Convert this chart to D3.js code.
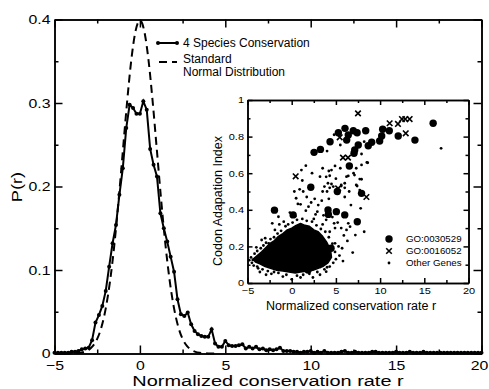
<!DOCTYPE html>
<html>
<head>
<meta charset="utf-8">
<script src="https://cdn.jsdelivr.net/npm/d3@7"></script>
<style>
  body { margin: 0; background: #fff; }
  svg  { display: block; font-family: "Liberation Sans", Arial, sans-serif; }
  .domain, .tick line { stroke: #000; stroke-width: 1.5; }
</style>
</head>
<body>
<svg id="chart" width="489" height="389"></svg>
<script>
// ─── Daten ───────────────────────────────────────────────────────────────────

// 4 Species Conservation: r-Werte und P(r)
const consR = [
  -5.0, -4.8, -4.6, -4.4, -4.2, -4.0, -3.8, -3.6, -3.4, -3.2,
  -3.0, -2.8, -2.6, -2.4, -2.2, -2.0, -1.8, -1.6, -1.4, -1.2,
  -1.0, -0.8, -0.6, -0.4, -0.2, 0.0, 0.2, 0.4, 0.6, 0.8,
  1.0, 1.2, 1.4, 1.6, 1.8, 2.0, 2.2, 2.4, 2.6, 2.8,
  3.0, 3.2, 3.4, 3.6, 3.8, 4.0, 4.2, 4.4, 4.6, 4.8,
  5.0, 5.2, 5.4, 5.6, 5.8, 6.0, 6.2, 6.4, 6.6, 6.8,
  7.0, 7.2, 7.4, 7.6, 7.8, 8.0, 8.2, 8.4, 8.6, 8.8,
  9.0, 9.2, 9.4, 9.6, 9.8, 10.0, 10.2, 10.4, 10.6, 10.8,
  11.0, 11.2, 11.4, 11.6, 11.8, 12.0, 12.2, 12.4, 12.6, 12.8,
  13.0, 13.2, 13.4, 13.6, 13.8, 14.0, 14.2, 14.4, 14.6, 14.8,
  15.0, 15.2, 15.4, 15.6, 15.8, 16.0, 16.2, 16.4, 16.6, 16.8,
  17.0, 17.2, 17.4, 17.6, 17.8, 18.0, 18.2, 18.4, 18.6, 18.8,
  19.0, 19.2, 19.4, 19.6, 19.8, 20.0
];
const consP = [
  0.001, 0.001, 0.001, 0.001, 0.001, 0.002, 0.002, 0.003, 0.005, 0.006,
  0.007, 0.016, 0.037, 0.046, 0.057, 0.075, 0.104, 0.132, 0.154, 0.190,
  0.222, 0.270, 0.298, 0.294, 0.287, 0.287, 0.302, 0.292, 0.245, 0.226,
  0.212, 0.168, 0.150, 0.134, 0.116, 0.098, 0.065, 0.047, 0.045, 0.049,
  0.035, 0.027, 0.023, 0.021, 0.020, 0.020, 0.029, 0.012, 0.008, 0.008,
  0.015, 0.010, 0.009, 0.009, 0.010, 0.011, 0.006, 0.008, 0.006, 0.008,
  0.005, 0.006, 0.004, 0.005, 0.004, 0.005, 0.007, 0.003, 0.003, 0.003,
  0.002, 0.002, 0.001, 0.002, 0.002, 0.003, 0.001, 0.002, 0.001, 0.003,
  0.001, 0.001, 0.001, 0.001, 0.002, 0.003, 0.001, 0.001, 0.002, 0.001,
  0.001, 0.001, 0.001, 0.002, 0.002, 0.001, 0.001, 0.001, 0.001, 0.001,
  0.002, 0.001, 0.001, 0.001, 0.002, 0.001, 0.001, 0.001, 0.002, 0.001,
  0.001, 0.001, 0.001, 0.001, 0.001, 0.001, 0.001, 0.001, 0.001, 0.001,
  0.001, 0.001, 0.001, 0.001, 0.001, 0.001
];

const normR = [
  -4.5, -4.25, -4.0, -3.75, -3.5, -3.25, -3.0, -2.75, -2.5, -2.25,
  -2.0, -1.75, -1.5, -1.25, -1.0, -0.75, -0.5, -0.25, 0.0,
  0.25, 0.5, 0.75, 1.0, 1.25, 1.5, 1.75, 2.0, 2.25, 2.5,
  2.75, 3.0, 3.25, 3.5, 3.75, 4.0, 4.25, 4.5
];
const normP = [
  0.0000, 0.0001, 0.0001, 0.0004, 0.0009, 0.0020, 0.0044, 0.0091, 0.0175, 0.0317,
  0.0540, 0.0863, 0.1295, 0.1826, 0.2420, 0.3011, 0.3521, 0.3867, 0.3989,
  0.3867, 0.3521, 0.3011, 0.2420, 0.1826, 0.1295, 0.0863, 0.0540, 0.0317, 0.0175,
  0.0091, 0.0044, 0.0020, 0.0009, 0.0004, 0.0001, 0.0001, 0.0000
];

// Inset: [r, CAI]
const goCircles = [
  [6.03, 0.845], [5.28, 0.821], [6.40, 0.809], [6.22, 0.781], [6.97, 0.832],
  [7.40, 0.821], [8.37, 0.832], [10.29, 0.840], [11.04, 0.832], [12.05, 0.803],
  [13.94, 0.781], [10.18, 0.803], [9.95, 0.776], [9.05, 0.769], [8.66, 0.750],
  [7.53, 0.754], [4.34, 0.772], [3.25, 0.730], [2.53, 0.714], [7.05, 0.709],
  [7.13, 0.727], [6.52, 0.639], [16.0, 0.873], [2.16, 0.523], [5.16, 0.500],
  [7.90, 0.490], [-1.95, 0.398], [0.16, 0.372], [4.11, 0.399], [4.15, 0.375],
  [6.00, 0.372], [7.42, 0.335], [4.45, 0.190], [1.85, 0.071], [5.05, 0.390]
];
const goCrosses = [
  [7.50, 0.927], [11.08, 0.873], [12.02, 0.869], [12.47, 0.896], [12.85, 0.896],
  [13.34, 0.896], [12.90, 0.818], [0.45, 0.583], [5.80, 0.685], [6.37, 0.685],
  [5.25, 0.517], [8.45, 0.470], [2.98, 0.098], [5.43, 0.796]
];
const otherGenes = [
  // obere, lockere Wolke
  [16.9, 0.736], [8.5, 0.659], [7.9, 0.645], [4.0, 0.721], [4.8, 0.810],
  [5.5, 0.754], [8.2, 0.772], [1.1, 0.617], [1.6, 0.641], [3.2, 0.581],
  [3.5, 0.627], [4.5, 0.617], [4.2, 0.612], [4.9, 0.640], [5.5, 0.627],
  [4.3, 0.586], [6.4, 0.585], [7.0, 0.600], [7.7, 0.568], [7.9, 0.705],
  [8.6, 0.657], [6.2, 0.581], [7.1, 0.590], [7.3, 0.627], [7.9, 0.567],
  [7.7, 0.508], [7.4, 0.530], [4.5, 0.541], [4.0, 0.500], [4.3, 0.520],
  [0.9, 0.512], [5.6, 0.530], [6.0, 0.520], [1.3, 0.500], [-2.2, 0.326],
  [-1.5, 0.362], [0.5, 0.463], [0.7, 0.432], [1.9, 0.417], [3.0, 0.426],
  [2.6, 0.460], [3.5, 0.500], [3.7, 0.527], [4.1, 0.545], [4.7, 0.527],
  [5.6, 0.536], [6.0, 0.545], [7.3, 0.536], [6.7, 0.426], [6.4, 0.326],
  [7.2, 0.262], [8.2, 0.280], [7.8, 0.408], [6.9, 0.166], [6.6, 0.308],
  [6.2, 0.290], [4.8, 0.326], [4.9, 0.217], [3.9, 0.062], [4.0, 0.086],
  [-3.8, 0.080], [-4.4, 0.126], [-3.4, 0.235], [-2.6, 0.217],
  [1.0, 0.430], [2.2, 0.440], [1.7, 0.470], [3.4, 0.450], [2.9, 0.390],
  [3.6, 0.370], [4.6, 0.360], [5.2, 0.330], [5.6, 0.300], [5.9, 0.260],
  [6.3, 0.230], [5.7, 0.190], [4.2, 0.460], [6.0, 0.470], [6.5, 0.500],
  [5.0, 0.570], [3.9, 0.580], [2.3, 0.600], [1.2, 0.560], [0.3, 0.500],
  // Rand des dichten Kerns
  [-4.6, 0.140], [-4.2, 0.160], [-3.9, 0.175], [-3.5, 0.190], [-3.2, 0.205],
  [-2.9, 0.220], [-2.4, 0.240], [-2.0, 0.250], [-1.6, 0.270], [-1.2, 0.285],
  [-0.7, 0.310], [-0.4, 0.320], [0.1, 0.330], [0.6, 0.345], [1.2, 0.350],
  [1.7, 0.340], [2.3, 0.335], [2.8, 0.315], [3.3, 0.295], [3.8, 0.280],
  [4.2, 0.250], [4.6, 0.215], [4.9, 0.170], [5.0, 0.130], [4.7, 0.110],
  [4.3, 0.090], [3.7, 0.075], [2.9, 0.060], [2.0, 0.050], [1.3, 0.045],
  [0.6, 0.040], [-0.6, 0.045], [-1.5, 0.055], [-2.0, 0.060], [-2.7, 0.065],
  [-3.3, 0.075], [-3.9, 0.090], [-4.5, 0.110], [-4.8, 0.125], [-4.0, 0.195],
  [-3.0, 0.245], [-1.9, 0.290], [-0.9, 0.335], [0.4, 0.365], [2.5, 0.350],
  [3.5, 0.320], [4.3, 0.280], [5.3, 0.200], [5.4, 0.150], [3.2, 0.045],
  [1.0, 0.030], [-1.0, 0.035], [-2.3, 0.050], [-3.6, 0.060], [-4.3, 0.095],
  [-0.2, 0.385], [1.6, 0.395], [2.7, 0.375], [3.9, 0.345], [4.9, 0.300],
  [-1.4, 0.320], [5.8, 0.120], [0.0, 0.020], [2.4, 0.030], [-2.9, 0.045]
];
// dichter Kern der "Other Genes" als Umriss
const blobOutline = [
  [-4.4, 0.130], [-3.9, 0.150], [-3.4, 0.170], [-3.0, 0.190], [-2.5, 0.215],
  [-2.0, 0.230], [-1.5, 0.255], [-1.0, 0.270], [-0.5, 0.290], [0.0, 0.300],
  [0.5, 0.315], [1.0, 0.325], [1.5, 0.315], [2.0, 0.310], [2.5, 0.290],
  [3.0, 0.280], [3.5, 0.255], [4.0, 0.220], [4.4, 0.180], [4.5, 0.140],
  [4.1, 0.110], [3.5, 0.090], [3.0, 0.080], [2.4, 0.070], [1.8, 0.065],
  [1.0, 0.060], [0.4, 0.055], [-0.3, 0.060], [-1.0, 0.065], [-1.7, 0.070],
  [-2.4, 0.080], [-3.0, 0.090], [-3.6, 0.105], [-4.1, 0.115]
];

const mainXTicks  = [-5, 0, 5, 10, 15, 20];
const mainXMinor  = [-2.5, 2.5, 7.5, 12.5, 17.5];
const mainYTicks  = [0, 0.1, 0.2, 0.3, 0.4];
const mainYMinor  = [0.05, 0.15, 0.25, 0.35];
const insetXTicks = [-5, 0, 5, 10, 15, 20];
const insetXMinor = [-2.5, 2.5, 7.5, 12.5, 17.5];
const insetYTicks = [0, 0.2, 0.4, 0.6, 0.8, 1];
const insetYMinor = [0.1, 0.3, 0.5, 0.7, 0.9];

// ─── Hilfsfunktionen ─────────────────────────────────────────────────────────

const svg = d3.select('#chart');

// breite Schrift nachbilden: Text horizontal strecken
function widen(sel, sx) {
  sel.each(function () {
    const t = d3.select(this);
    const tx = +t.attr('x') || 0;
    const ty = +t.attr('y') || 0;
    t.attr('x', 0).attr('y', 0)
     .attr('transform', `translate(${tx},${ty}) scale(${sx},1)`);
  });
}

function drawAxes(g, x, y, o) {
  const w0 = x.range()[0], w1 = x.range()[1];
  const h0 = y.range()[0], h1 = y.range()[1];

  const bottom = g.append('g').attr('transform', `translate(0,${h0})`)
    .call(d3.axisBottom(x).tickValues(o.xt).tickSize(-o.major).tickSizeOuter(0)
      .tickPadding(o.xpad).tickFormat(d3.format('d')));
  g.append('g').attr('transform', `translate(0,${h0})`)
    .call(d3.axisBottom(x).tickValues(o.xm).tickSize(-o.minor).tickSizeOuter(0).tickFormat(''));
  const left = g.append('g').attr('transform', `translate(${w0},0)`)
    .call(d3.axisLeft(y).tickValues(o.yt).tickSize(-o.major).tickSizeOuter(0)
      .tickPadding(o.ypad).tickFormat(o.yfmt));
  g.append('g').attr('transform', `translate(${w0},0)`)
    .call(d3.axisLeft(y).tickValues(o.ym).tickSize(-o.minor).tickSizeOuter(0).tickFormat(''));
  // Rahmen oben/rechts mit Ticks nach innen
  g.append('g').attr('transform', `translate(0,${h1})`)
    .call(d3.axisTop(x).tickValues(o.xt).tickSize(-o.major).tickSizeOuter(0).tickFormat(''));
  g.append('g').attr('transform', `translate(0,${h1})`)
    .call(d3.axisTop(x).tickValues(o.xm).tickSize(-o.minor).tickSizeOuter(0).tickFormat(''));
  g.append('g').attr('transform', `translate(${w1},0)`)
    .call(d3.axisRight(y).tickValues(o.yt).tickSize(-o.major).tickSizeOuter(0).tickFormat(''));
  g.append('g').attr('transform', `translate(${w1},0)`)
    .call(d3.axisRight(y).tickValues(o.ym).tickSize(-o.minor).tickSizeOuter(0).tickFormat(''));

  g.selectAll('.tick text').attr('fill', '#000').attr('font-family', null);
  bottom.selectAll('text').attr('font-size', o.fs);
  left.selectAll('text').attr('font-size', o.fs);
  // letztes Label am rechten Rand etwas einrücken
  if (o.lastShift) {
    bottom.selectAll('.tick text').filter((d, i, n) => i === n.length - 1)
      .attr('x', -o.lastShift);
  }
  widen(bottom.selectAll('text'), o.sx);
  widen(left.selectAll('text'), o.sx);
}

// ─── Hauptdiagramm ───────────────────────────────────────────────────────────

const x = d3.scaleLinear().domain([-5, 20]).range([54.5, 481.5]);
const y = d3.scaleLinear().domain([0, 0.4]).range([353.5, 19.5]);

const main = svg.append('g');
drawAxes(main, x, y, {
  xt: mainXTicks, xm: mainXMinor, yt: mainYTicks, ym: mainYMinor,
  major: 8, minor: 4, xpad: 7, ypad: 4, fs: 13, sx: 1.22, lastShift: 2.5,
  yfmt: d => d === 0 ? '0' : d3.format('.1f')(d)
});

const normData = normR.map((r, i) => [r, normP[i]]);
const consData = consR.map((r, i) => [r, consP[i]]);

main.append('path')
  .datum(normData)
  .attr('fill', 'none')
  .attr('stroke', '#000')
  .attr('stroke-width', 2)
  .attr('stroke-dasharray', '8,5')
  .attr('d', d3.line().x(d => x(d[0])).y(d => y(d[1])).curve(d3.curveMonotoneX));

main.append('path')
  .datum(consData)
  .attr('fill', 'none')
  .attr('stroke', '#000')
  .attr('stroke-width', 2)
  .attr('d', d3.line().x(d => x(d[0])).y(d => y(d[1])));

main.selectAll('circle.cons')
  .data(consData)
  .enter()
  .append('circle')
  .attr('class', 'cons')
  .attr('cx', d => x(d[0]))
  .attr('cy', d => y(d[1]))
  .attr('r', 2);

// Achsentitel
const xTitle = main.append('text')
  .attr('x', 268).attr('y', 386)
  .attr('text-anchor', 'middle')
  .attr('font-size', 15)
  .text('Normalized conservation rate r');
widen(xTitle, 1.33);

main.append('text')
  .attr('transform', 'translate(22,187) rotate(-90) scale(1.3,1)')
  .attr('text-anchor', 'middle')
  .attr('font-size', 14)
  .text('P(r)');

// Legende
const leg = main.append('g');
leg.append('line').attr('x1', 158).attr('x2', 177).attr('y1', 43).attr('y2', 43)
  .attr('stroke', '#000').attr('stroke-width', 2);
leg.selectAll('circle').data([158, 177]).enter().append('circle')
  .attr('cx', d => d).attr('cy', 43).attr('r', 2);
leg.append('text').attr('x', 183).attr('y', 47).attr('font-size', 12)
  .text('4 Species Conservation');
leg.append('line').attr('x1', 159).attr('x2', 177).attr('y1', 62).attr('y2', 62)
  .attr('stroke', '#000').attr('stroke-width', 2).attr('stroke-dasharray', '8,5');
leg.append('text').attr('x', 183).attr('y', 63).attr('font-size', 12).text('Standard');
leg.append('text').attr('x', 183).attr('y', 75.5).attr('font-size', 12).text('Normal Distribution');

// ─── Inset ───────────────────────────────────────────────────────────────────

const xi = d3.scaleLinear().domain([-5, 20]).range([247.5, 468.5]);
const yi = d3.scaleLinear().domain([0, 1]).range([283, 100]);

const inset = svg.append('g');
inset.append('rect')
  .attr('x', xi(-5)).attr('y', yi(1))
  .attr('width', xi(20) - xi(-5)).attr('height', yi(0) - yi(1))
  .attr('fill', '#fff');

inset.append('path')
  .datum(blobOutline)
  .attr('fill', '#000')
  .attr('stroke', '#000')
  .attr('stroke-width', 1.5)
  .attr('stroke-linejoin', 'round')
  .attr('d', d3.line().x(d => xi(d[0])).y(d => yi(d[1])).curve(d3.curveLinearClosed));

inset.selectAll('circle.other')
  .data(otherGenes)
  .enter()
  .append('circle')
  .attr('class', 'other')
  .attr('cx', d => xi(d[0]))
  .attr('cy', d => yi(d[1]))
  .attr('r', 1.4);

inset.selectAll('circle.go1')
  .data(goCircles)
  .enter()
  .append('circle')
  .attr('class', 'go1')
  .attr('cx', d => xi(d[0]))
  .attr('cy', d => yi(d[1]))
  .attr('r', 3.7);

const cross = d3.symbol().type(d3.symbolX).size(22);
inset.selectAll('path.go2')
  .data(goCrosses)
  .enter()
  .append('path')
  .attr('class', 'go2')
  .attr('transform', d => `translate(${xi(d[0])},${yi(d[1])})`)
  .attr('d', cross)
  .attr('fill', 'none')
  .attr('stroke', '#000')
  .attr('stroke-width', 1.6);

drawAxes(inset, xi, yi, {
  xt: insetXTicks, xm: insetXMinor, yt: insetYTicks, ym: insetYMinor,
  major: 5, minor: 3, xpad: 4.5, ypad: 3.5, fs: 9.3, sx: 1.18,
  yfmt: d => (d === 0 || d === 1) ? String(d) : d3.format('.1f')(d)
});
inset.selectAll('.domain, .tick line').attr('stroke-width', 1.3);

inset.append('text')
  .attr('x', 351).attr('y', 309.5)
  .attr('text-anchor', 'middle')
  .attr('font-size', 12.5)
  .text('Normalized conservation rate r');

inset.append('text')
  .attr('transform', 'translate(222,201) rotate(-90)')
  .attr('text-anchor', 'middle')
  .attr('font-size', 12.5)
  .text('Codon Adapation Index');

// Inset-Legende
const il = inset.append('g');
il.append('circle').attr('cx', 389).attr('cy', 239).attr('r', 3.7);
il.append('path').attr('transform', 'translate(389,251)').attr('d', cross)
  .attr('fill', 'none').attr('stroke', '#000').attr('stroke-width', 1.6);
il.append('circle').attr('cx', 389).attr('cy', 263).attr('r', 1.4);
const ilText = il.selectAll('text')
  .data(['GO:0030529', 'GO:0016052', 'Other Genes'])
  .enter()
  .append('text')
  .attr('x', 406)
  .attr('y', (d, i) => 242 + i * 12)
  .attr('font-size', 8.6)
  .text(d => d);
widen(ilText, 1.13);
</script>
</body>
</html>
